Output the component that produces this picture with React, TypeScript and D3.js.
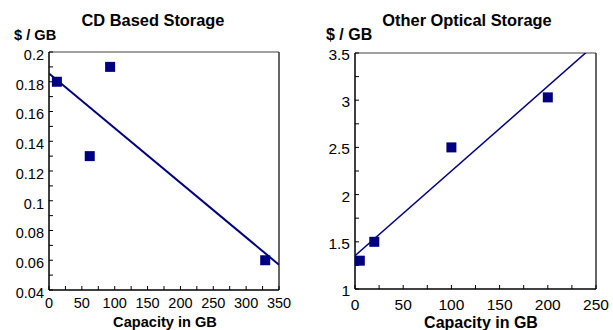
import React from "react";
import * as d3 from "d3";

// ---- Data ----
const cdCapacity = [12, 62, 93, 329];
const cdPrice = [0.18, 0.13, 0.19, 0.06];
const cdXTicks = [0, 50, 100, 150, 200, 250, 300, 350];
const cdYTicks = [0.04, 0.06, 0.08, 0.1, 0.12, 0.14, 0.16, 0.18, 0.2];

const opCapacity = [5, 20, 100, 200];
const opPrice = [1.3, 1.5, 2.5, 3.03];
const opXTicks = [0, 50, 100, 150, 200, 250];
const opYTicks = [1, 1.5, 2, 2.5, 3, 3.5];

const FONT = "'Liberation Sans', Arial, Helvetica, sans-serif";
const NAVY = "#000080";

function regression(xs: number[], ys: number[]) {
  const mx = d3.mean(xs)!;
  const my = d3.mean(ys)!;
  let sxy = 0, sxx = 0;
  xs.forEach((x, i) => {
    sxy += (x - mx) * (ys[i] - my);
    sxx += (x - mx) * (x - mx);
  });
  const slope = sxy / sxx;
  return { slope, intercept: my - slope * mx };
}

type ChartProps = {
  id: string;
  title: string;
  xs: number[];
  ys: number[];
  xTicks: number[];
  yTicks: number[];
  xMinorStep: number;
  yMinorStep: number;
  yFormat: (v: number) => string;
  left: number;
  right: number;
  top: number;
  bottom: number;
  titleX: number;
  unitX: number;
  tickFont: number;
  axisTitleFont: number;
  xTitleX: number;
  yLabelDy: number;
  xLabelY: number;
  xTitleY: number;
  lineWidth: number;
};

function Chart(p: ChartProps) {
  const x = d3.scaleLinear().domain([p.xTicks[0], p.xTicks[p.xTicks.length - 1]]).range([p.left, p.right]);
  const y = d3.scaleLinear().domain([p.yTicks[0], p.yTicks[p.yTicks.length - 1]]).range([p.bottom, p.top]);
  const [x0, x1] = x.domain();
  const [y0, y1] = y.domain();
  const xMinor = d3.range(x0, x1 + 1e-9, p.xMinorStep);
  const yMinor = d3.range(y0, y1 + 1e-9, p.yMinorStep);
  const reg = regression(p.xs, p.ys);
  const line = d3.line<number>().x((v) => x(v)).y((v) => y(reg.intercept + reg.slope * v));
  const tickLen = 4;
  const sq = 10;
  return (
    <g>
      <defs>
        <clipPath id={p.id}>
          <rect x={p.left} y={p.top} width={p.right - p.left} height={p.bottom - p.top} />
        </clipPath>
      </defs>
      <text x={p.titleX} y={26} textAnchor="middle" fontFamily={FONT} fontWeight="bold" fontSize={16.4}>
        {p.title}
      </text>
      <text x={p.unitX} y={40} fontFamily={FONT} fontWeight="bold" fontSize={p.axisTitleFont}>
        $ / GB
      </text>
      {/* frame */}
      <line x1={p.left} x2={p.right} y1={p.top} y2={p.top} stroke="#808080" strokeWidth={1.5} />
      <line x1={p.right} x2={p.right} y1={p.top} y2={p.bottom} stroke="#333" strokeWidth={1.5} />
      {/* ticks */}
      {yMinor.map((v, i) => (
        <line key={"ym" + i} x1={p.left} x2={p.left + tickLen} y1={y(v)} y2={y(v)} stroke="#000" strokeWidth={1} />
      ))}
      {xMinor.map((v, i) => (
        <line key={"xm" + i} x1={x(v)} x2={x(v)} y1={p.bottom} y2={p.bottom - tickLen} stroke="#000" strokeWidth={1} />
      ))}
      <line x1={p.left} x2={p.left} y1={p.top} y2={p.bottom} stroke="#000" strokeWidth={1.5} />
      <line x1={p.left} x2={p.right} y1={p.bottom} y2={p.bottom} stroke="#000" strokeWidth={1.5} />
      {p.yTicks.map((v, i) => (
        <text key={"yl" + i} x={p.left - 5} y={y(v) + p.yLabelDy} textAnchor="end" dominantBaseline="middle" fontFamily={FONT} fontSize={p.tickFont}>
          {p.yFormat(v)}
        </text>
      ))}
      {p.xTicks.map((v, i) => (
        <text key={"xl" + i} x={x(v)} y={p.xLabelY} textAnchor="middle" fontFamily={FONT} fontSize={p.tickFont}>
          {String(v)}
        </text>
      ))}
      <text x={p.xTitleX} y={p.xTitleY} textAnchor="middle" fontFamily={FONT} fontWeight="bold" fontSize={p.axisTitleFont}>
        Capacity in GB
      </text>
      {/* trend line */}
      <path d={line([x0, x1]) || ""} fill="none" stroke={NAVY} strokeWidth={p.lineWidth} clipPath={`url(#${p.id})`} />
      {/* markers */}
      {p.xs.map((v, i) => (
        <rect key={"pt" + i} x={x(v) - sq / 2} y={y(p.ys[i]) - sq / 2} width={sq} height={sq} fill={NAVY} />
      ))}
    </g>
  );
}

export default function App() {
  return (
    <svg width={613} height={330} style={{ position: "absolute", left: 0, top: 0, background: "#fff" }}>
      <rect width={613} height={330} fill="#fff" />
      <Chart
        id="clipCD"
        title="CD Based Storage"
        xs={cdCapacity}
        ys={cdPrice}
        xTicks={cdXTicks}
        yTicks={cdYTicks}
        xMinorStep={25}
        yMinorStep={0.01}
        yFormat={(v) => String(+v.toFixed(2))}
        left={49}
        right={279}
        top={52}
        bottom={290}
        titleX={153}
        unitX={14}
        tickFont={14.5}
        axisTitleFont={14.6}
        xTitleX={165}
        yLabelDy={4}
        xLabelY={308}
        xTitleY={327}
        lineWidth={2}
      />
      <Chart
        id="clipOP"
        title="Other Optical Storage"
        xs={opCapacity}
        ys={opPrice}
        xTicks={opXTicks}
        yTicks={opYTicks}
        xMinorStep={25}
        yMinorStep={0.25}
        yFormat={(v) => String(v)}
        left={355}
        right={596}
        top={53}
        bottom={289}
        titleX={467}
        unitX={326}
        tickFont={15.5}
        axisTitleFont={16}
        xTitleX={481}
        yLabelDy={3}
        xLabelY={310}
        xTitleY={328}
        lineWidth={1.5}
      />
    </svg>
  );
}
